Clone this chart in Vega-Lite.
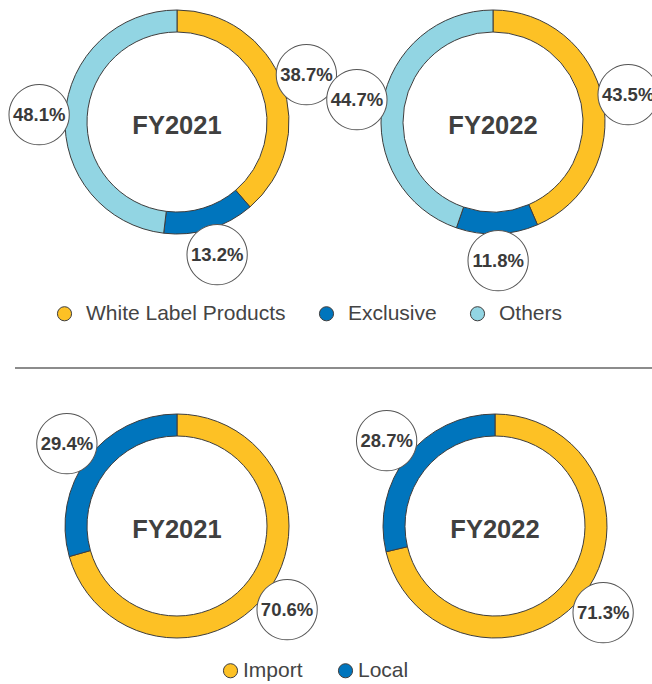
{
  "$schema": "https://vega.github.io/schema/vega-lite/v6.json",
  "autosize": {"type": "none"},
  "padding": {"left": 0, "top": 0, "right": 652, "bottom": 684},
  "background": "white",
  "config": {"view": {"stroke": null}, "font": "Liberation Sans"},
  "datasets": {
    "product": [
      {"year": "FY2021", "category": "White Label Products", "k": 1, "share": 0.387},
      {"year": "FY2021", "category": "Exclusive", "k": 2, "share": 0.132},
      {"year": "FY2021", "category": "Others", "k": 3, "share": 0.481},
      {"year": "FY2022", "category": "White Label Products", "k": 1, "share": 0.435},
      {"year": "FY2022", "category": "Exclusive", "k": 2, "share": 0.118},
      {"year": "FY2022", "category": "Others", "k": 3, "share": 0.447}
    ],
    "origin": [
      {"year": "FY2021", "category": "Import", "k": 1, "share": 0.706},
      {"year": "FY2021", "category": "Local", "k": 2, "share": 0.294},
      {"year": "FY2022", "category": "Import", "k": 1, "share": 0.713},
      {"year": "FY2022", "category": "Local", "k": 2, "share": 0.287}
    ]
  },
  "columns": 2,
  "spacing": 0,
  "align": "none",
  "bounds": "flush",
  "resolve": {"scale": {"color": "independent", "theta": "independent"}, "legend": {"color": "independent"}},
  "concat": [
    {
      "width": 354, "height": 244,
      "data": {"name": "product"},
      "transform": [{"filter": "datum.year == 'FY2021'"}],
      "layer": [
        {
          "mark": {"type": "arc", "innerRadius": 90, "outerRadius": 112, "stroke": "#3d3d3d", "strokeWidth": 1},
          "encoding": {
            "theta": {"field": "share", "type": "quantitative", "stack": true},
            "order": {"field": "k"},
            "color": {
              "field": "category", "type": "nominal",
              "scale": {"domain": ["White Label Products", "Exclusive", "Others"], "range": ["#FDC125", "#0075BD", "#92D5E3"]},
              "legend": {
                "orient": "none", "legendX": 54, "legendY": 303, "direction": "horizontal", "title": null,
                "symbolType": "circle", "symbolSize": 200, "symbolStrokeColor": "#3d3d3d", "symbolStrokeWidth": 1,
                "labelFont": "Liberation Sans", "labelFontSize": 21, "labelColor": "#444444", "labelOffset": 11,
                "columnPadding": 30, "padding": 0, "labelLimit": 400
              }
            }
          }
        },
        {
          "mark": {"type": "text", "text": "●", "radius": 138, "font": "DejaVu Sans", "fontSize": 79, "stroke": "#555555", "strokeWidth": 1, "baseline": "middle", "dy": -3},
          "encoding": {
            "theta": {"field": "share", "type": "quantitative", "stack": true},
            "order": {"field": "k"},
            "color": {"value": "white"}
          }
        },
        {
          "mark": {"type": "text", "radius": 138, "font": "Liberation Sans", "fontWeight": "bold", "fontSize": 18.5, "baseline": "middle", "dy": 1},
          "encoding": {
            "theta": {"field": "share", "type": "quantitative", "stack": true},
            "order": {"field": "k"},
            "text": {"field": "share", "type": "quantitative", "format": ".1%"},
            "color": {"value": "#3a3a3a"}
          }
        },
        {
          "transform": [{"filter": "datum.k == 1"}],
          "mark": {"type": "text", "font": "Liberation Sans", "fontWeight": "bold", "fontSize": 25.5, "baseline": "middle", "dy": 4},
          "encoding": {
            "text": {"field": "year"},
            "color": {"value": "#404040"}
          }
        }
      ]
    },
    {
      "width": 278, "height": 244,
      "data": {"name": "product"},
      "transform": [{"filter": "datum.year == 'FY2022'"}],
      "layer": [
        {
          "mark": {"type": "arc", "innerRadius": 90, "outerRadius": 112, "stroke": "#3d3d3d", "strokeWidth": 1},
          "encoding": {
            "theta": {"field": "share", "type": "quantitative", "stack": true},
            "order": {"field": "k"},
            "color": {
              "field": "category", "type": "nominal",
              "scale": {"domain": ["White Label Products", "Exclusive", "Others"], "range": ["#FDC125", "#0075BD", "#92D5E3"]},
              "legend": null
            }
          }
        },
        {
          "mark": {"type": "text", "text": "●", "radius": 138, "font": "DejaVu Sans", "fontSize": 79, "stroke": "#555555", "strokeWidth": 1, "baseline": "middle", "dy": -3},
          "encoding": {
            "theta": {"field": "share", "type": "quantitative", "stack": true},
            "order": {"field": "k"},
            "color": {"value": "white"}
          }
        },
        {
          "mark": {"type": "text", "radius": 138, "font": "Liberation Sans", "fontWeight": "bold", "fontSize": 18.5, "baseline": "middle", "dy": 1},
          "encoding": {
            "theta": {"field": "share", "type": "quantitative", "stack": true},
            "order": {"field": "k"},
            "text": {"field": "share", "type": "quantitative", "format": ".1%"},
            "color": {"value": "#3a3a3a"}
          }
        },
        {
          "transform": [{"filter": "datum.k == 1"}],
          "mark": {"type": "text", "font": "Liberation Sans", "fontWeight": "bold", "fontSize": 25.5, "baseline": "middle", "dy": 4},
          "encoding": {
            "text": {"field": "year"},
            "color": {"value": "#404040"}
          }
        }
      ]
    },
    {
      "width": 354, "height": 124,
      "data": {"values": [{}]},
      "mark": {"type": "rule", "color": "#666666", "strokeWidth": 1.5, "xOffset": 15, "x2Offset": 300},
      "encoding": {
        "x": {"datum": 0, "type": "quantitative", "scale": {"domain": [0, 1]}, "axis": null},
        "x2": {"datum": 1},
        "y": {"datum": 0, "type": "quantitative", "scale": {"domain": [0, 1]}, "axis": null}
      }
    },
    {
      "width": 278, "height": 124,
      "data": {"values": []},
      "mark": "text",
      "encoding": {}
    },
    {
      "width": 354, "height": 316,
      "data": {"name": "origin"},
      "transform": [{"filter": "datum.year == 'FY2021'"}],
      "layer": [
        {
          "mark": {"type": "arc", "innerRadius": 90, "outerRadius": 112, "stroke": "#3d3d3d", "strokeWidth": 1},
          "encoding": {
            "theta": {"field": "share", "type": "quantitative", "stack": true},
            "order": {"field": "k"},
            "color": {
              "field": "category", "type": "nominal",
              "scale": {"domain": ["Import", "Local"], "range": ["#FDC125", "#0075BD"]},
              "legend": {
                "orient": "none", "legendX": 220, "legendY": 292, "direction": "horizontal", "title": null,
                "symbolType": "circle", "symbolSize": 200, "symbolStrokeColor": "#3d3d3d", "symbolStrokeWidth": 1,
                "labelFont": "Liberation Sans", "labelFontSize": 21, "labelColor": "#444444", "labelOffset": 2,
                "columnPadding": 32, "padding": 0, "labelLimit": 400
              }
            }
          }
        },
        {
          "mark": {"type": "text", "text": "●", "radius": 138, "font": "DejaVu Sans", "fontSize": 79, "stroke": "#555555", "strokeWidth": 1, "baseline": "middle", "dy": -3},
          "encoding": {
            "theta": {"field": "share", "type": "quantitative", "stack": true},
            "order": {"field": "k"},
            "color": {"value": "white"}
          }
        },
        {
          "mark": {"type": "text", "radius": 138, "font": "Liberation Sans", "fontWeight": "bold", "fontSize": 18.5, "baseline": "middle", "dy": 1},
          "encoding": {
            "theta": {"field": "share", "type": "quantitative", "stack": true},
            "order": {"field": "k"},
            "text": {"field": "share", "type": "quantitative", "format": ".1%"},
            "color": {"value": "#3a3a3a"}
          }
        },
        {
          "transform": [{"filter": "datum.k == 1"}],
          "mark": {"type": "text", "font": "Liberation Sans", "fontWeight": "bold", "fontSize": 25.5, "baseline": "middle", "dy": 4},
          "encoding": {
            "text": {"field": "year"},
            "color": {"value": "#404040"}
          }
        }
      ]
    },
    {
      "width": 282, "height": 316,
      "data": {"name": "origin"},
      "transform": [{"filter": "datum.year == 'FY2022'"}],
      "layer": [
        {
          "mark": {"type": "arc", "innerRadius": 90, "outerRadius": 112, "stroke": "#3d3d3d", "strokeWidth": 1},
          "encoding": {
            "theta": {"field": "share", "type": "quantitative", "stack": true},
            "order": {"field": "k"},
            "color": {
              "field": "category", "type": "nominal",
              "scale": {"domain": ["Import", "Local"], "range": ["#FDC125", "#0075BD"]},
              "legend": null
            }
          }
        },
        {
          "mark": {"type": "text", "text": "●", "radius": 138, "font": "DejaVu Sans", "fontSize": 79, "stroke": "#555555", "strokeWidth": 1, "baseline": "middle", "dy": -3},
          "encoding": {
            "theta": {"field": "share", "type": "quantitative", "stack": true},
            "order": {"field": "k"},
            "color": {"value": "white"}
          }
        },
        {
          "mark": {"type": "text", "radius": 138, "font": "Liberation Sans", "fontWeight": "bold", "fontSize": 18.5, "baseline": "middle", "dy": 1},
          "encoding": {
            "theta": {"field": "share", "type": "quantitative", "stack": true},
            "order": {"field": "k"},
            "text": {"field": "share", "type": "quantitative", "format": ".1%"},
            "color": {"value": "#3a3a3a"}
          }
        },
        {
          "transform": [{"filter": "datum.k == 1"}],
          "mark": {"type": "text", "font": "Liberation Sans", "fontWeight": "bold", "fontSize": 25.5, "baseline": "middle", "dy": 4},
          "encoding": {
            "text": {"field": "year"},
            "color": {"value": "#404040"}
          }
        }
      ]
    }
  ]
}
